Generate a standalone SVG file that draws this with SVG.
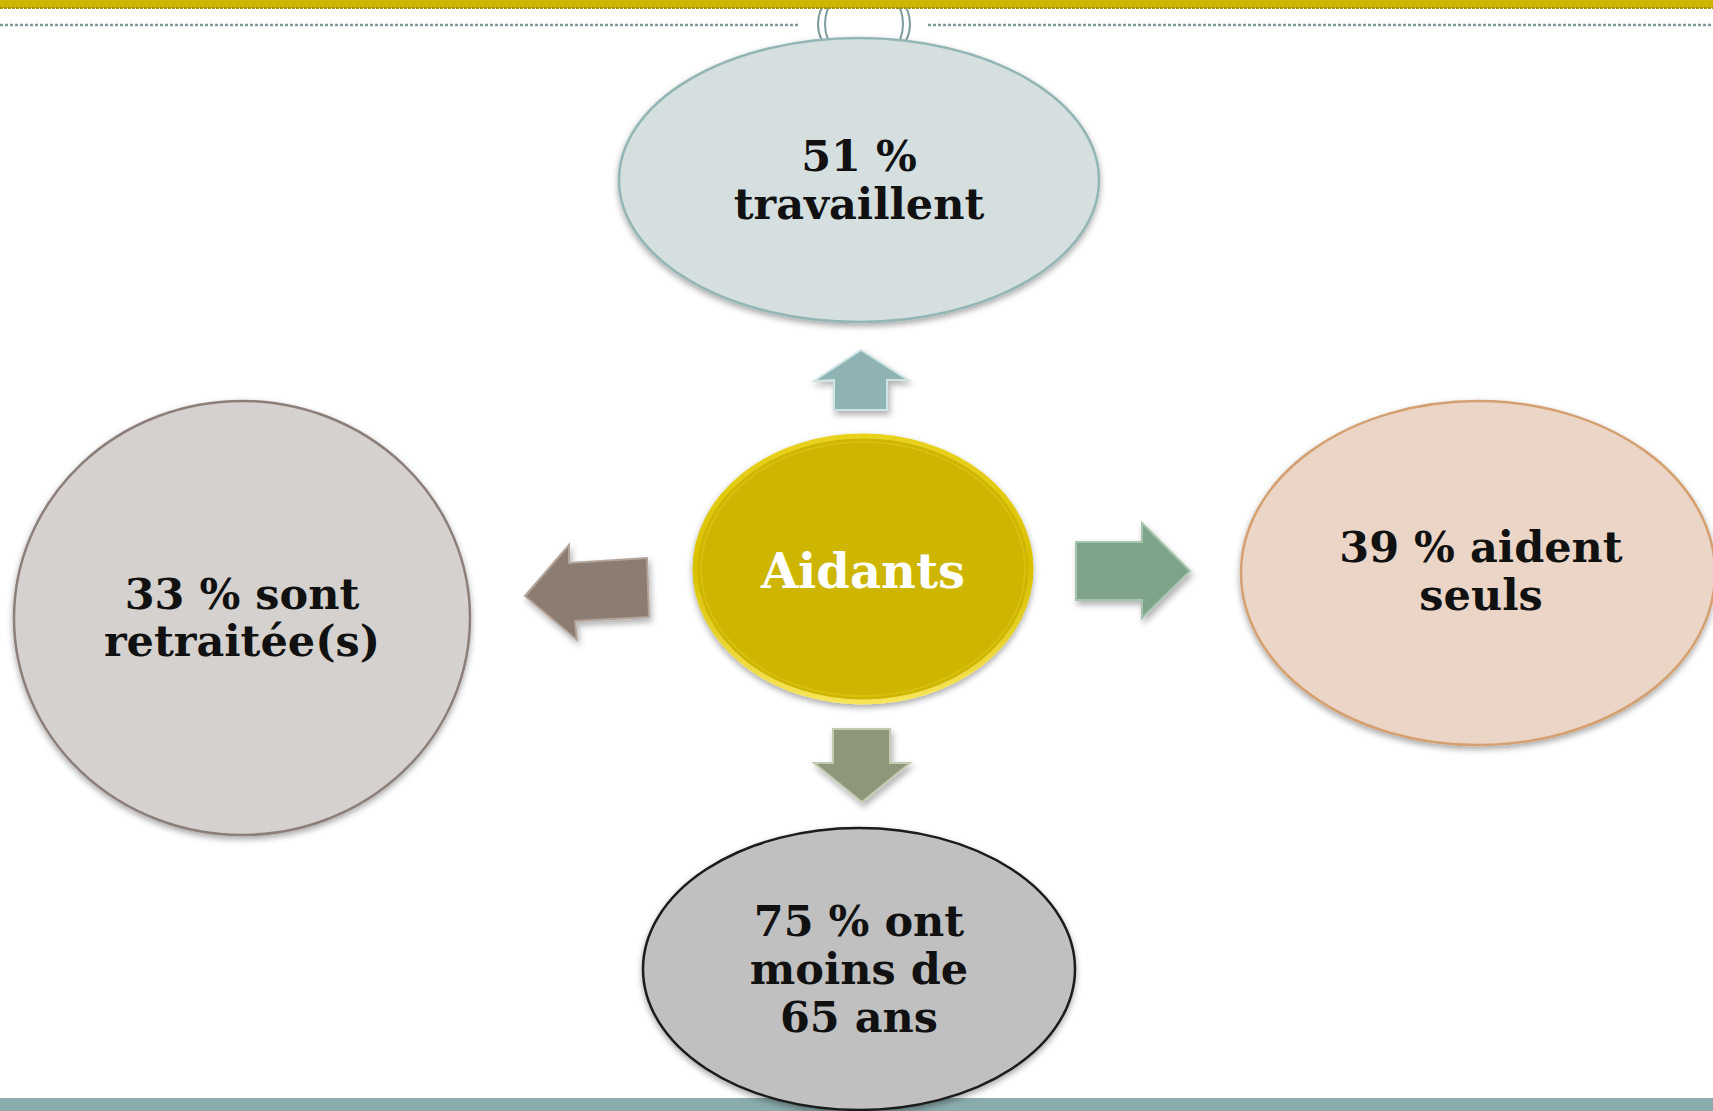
<svg xmlns="http://www.w3.org/2000/svg" width="1713" height="1111" viewBox="0 0 1713 1111">
<style>
.lbl{font-family:"DejaVu Serif","Liberation Serif",serif;font-weight:bold;font-size:43px;fill:#111;text-anchor:middle}
.ctr{font-family:"DejaVu Serif","Liberation Serif",serif;font-weight:bold;font-size:48px;fill:#fff;text-anchor:middle}
.arrow{stroke-width:2;stroke-linejoin:miter}
</style>
<defs>
<filter id="sh" x="-20%" y="-20%" width="140%" height="140%">
<feDropShadow dx="0" dy="3" stdDeviation="3" flood-color="#000" flood-opacity="0.35"/>
</filter>
<filter id="ash" x="-30%" y="-30%" width="160%" height="160%">
<feDropShadow dx="2" dy="4" stdDeviation="3" flood-color="#000" flood-opacity="0.3"/>
</filter>
<linearGradient id="rim" x1="0" y1="0" x2="0" y2="1">
<stop offset="0" stop-color="#e9d21c"/>
<stop offset="0.5" stop-color="#d8c000"/>
<stop offset="1" stop-color="#f7e55a"/>
</linearGradient>
</defs>
<rect width="1713" height="1111" fill="#fff"/>
<g id="header">
<line x1="0" y1="25" x2="800" y2="25" stroke="#7f9a9a" stroke-width="2.5" stroke-dasharray="3 2"/>
<line x1="928" y1="25" x2="1713" y2="25" stroke="#7f9a9a" stroke-width="2.5" stroke-dasharray="3 2"/>
<ellipse cx="864" cy="24" rx="46" ry="40" fill="#fff" stroke="#7f9a9a" stroke-width="2"/>
<ellipse cx="864" cy="24" rx="39" ry="40" fill="#fff" stroke="#7f9a9a" stroke-width="2"/>
<rect x="0" y="0" width="1713" height="8" fill="#cdb500"/>
<line x1="0" y1="8" x2="1713" y2="8" stroke="#a89400" stroke-width="2" stroke-dasharray="3 1"/>
</g>
<rect id="footer" x="0" y="1098" width="1713" height="13" fill="#8aacac"/>
<g id="connectors" filter="url(#ash)">
<polygon class="arrow" points="861,350 908,380 887,380 887,410 834,410 834,380 814,381" fill="#8fb3b3" stroke="#cfe4e4"/>
<polygon class="arrow" points="525,596 569,545 569,563 647,558 649,617 575,621 577,640" fill="#8c7d73" stroke="#b3a49a"/>
<polygon class="arrow" points="1076,542 1142,542 1142,523 1190,571 1142,618 1142,600 1076,600" fill="#7fa38a" stroke="#a6c4ae"/>
<polygon class="arrow" points="833,729 890,729 890,763 910,763 862,802 814,763 833,763" fill="#8e977a" stroke="#c2cab0"/>
</g>
<g id="node-top">
<ellipse cx="859" cy="180" rx="240" ry="142" fill="#d5dfdf" stroke="#93b5b5" stroke-width="2.5" filter="url(#sh)"/>
<text class="lbl" x="859" y="171">51 %</text>
<text class="lbl" x="859" y="219">travaillent</text>
</g>
<g id="node-left">
<ellipse cx="242" cy="618" rx="228" ry="217" fill="#d5d1ce" stroke="#8c7e78" stroke-width="2.5" filter="url(#sh)"/>
<text class="lbl" x="242" y="609">33 % sont</text>
<text class="lbl" x="242" y="656">retraitée(s)</text>
</g>
<g id="node-right">
<ellipse cx="1478" cy="573" rx="237" ry="172" fill="#ead5c7" stroke="#d4a070" stroke-width="2.5" filter="url(#sh)"/>
<text class="lbl" x="1481" y="562">39 % aident</text>
<text class="lbl" x="1481" y="610">seuls</text>
</g>
<g id="node-bottom">
<ellipse cx="859" cy="969" rx="216" ry="141" fill="#c0c0c0" stroke="#1a1a1a" stroke-width="2.5" filter="url(#sh)"/>
<text class="lbl" x="859" y="936">75 % ont</text>
<text class="lbl" x="859" y="984">moins de</text>
<text class="lbl" x="859" y="1032">65 ans</text>
</g>
<g id="node-center">
<ellipse cx="863" cy="569" rx="168" ry="133" fill="#cdb500" stroke="url(#rim)" stroke-width="5" filter="url(#sh)"/>
<ellipse cx="863" cy="569" rx="162" ry="127" fill="none" stroke="#e3cc20" stroke-width="2" opacity="0.5"/>
<text class="ctr" x="863" y="588">Aidants</text>
</g>
</svg>
